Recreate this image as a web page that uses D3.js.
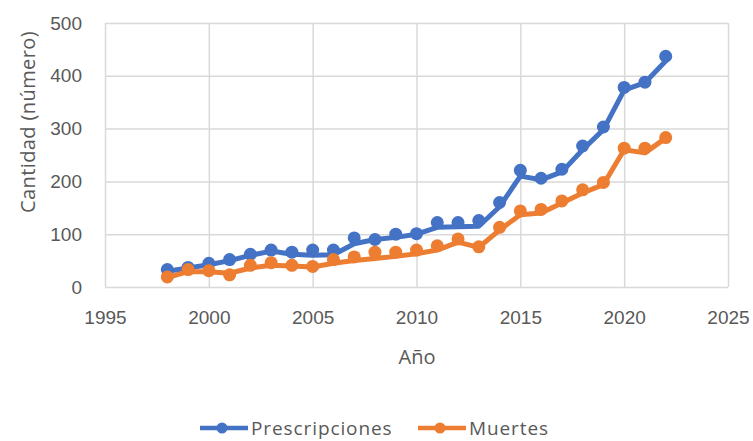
<!DOCTYPE html>
<html lang="es">
<head>
    <meta charset="utf-8">
    <title>Prescripciones y muertes</title>
    <style>
        body {
            margin: 0;
            background: #fff;
        }

        svg {
            font-family: "Open Sans", sans-serif;
        }

        .grid line {
            stroke: #d9d9d9;
            stroke-width: 1.5;
        }

        .tick text {
            fill: #595959;
            font-size: 19px;
        }
    </style>
</head>
<body>

<svg width="753" height="441"></svg>

<script src="https://d3js.org/d3.v7.min.js"></script>
<script>

    // ---- data ----
    const years = [1998, 1999, 2000, 2001, 2002, 2003, 2004, 2005, 2006, 2007, 2008, 2009,
        2010, 2011, 2012, 2013, 2014, 2015, 2016, 2017, 2018, 2019, 2020, 2021, 2022];

    // markers
    const prescripciones = [33, 37, 45, 52, 62, 70, 66, 70, 70, 93, 90, 100,
        101, 122, 122, 126, 160, 221, 206, 223, 267, 303, 378, 388, 437];
    const muertes = [19, 33, 31, 23, 41, 46, 41, 39, 52, 57, 66, 66,
        70, 78, 91, 76, 113, 144, 147, 163, 184, 198, 263, 263, 283];

    // the drawn lines run a little apart from the markers
    const prescripcionesLinea = [30, 36, 42, 50, 60, 68, 62, 60, 61, 82, 90, 94,
        100, 113, 114, 115, 152, 210, 203, 218, 260, 298, 373, 387, 428];
    const muertesLinea = [18, 29, 29, 26, 36, 41, 40, 38, 45, 50, 54, 58,
        63, 70, 85, 75, 108, 137, 140, 159, 178, 194, 260, 254, 282];

    const xTicks = [1995, 2000, 2005, 2010, 2015, 2020, 2025];
    const yTicks = [0, 100, 200, 300, 400, 500];

    const series = [
        {name: "Prescripciones", color: "#4472C4", points: prescripciones, line: prescripcionesLinea},
        {name: "Muertes", color: "#ED7D31", points: muertes, line: muertesLinea}
    ];

    const svg = d3.select("svg");
    const plot = {left: 105, right: 728, top: 23, bottom: 287};

    const x = d3.scaleLinear().domain([1995, 2025]).range([plot.left, plot.right]);
    const y = d3.scaleLinear().domain([0, 500]).range([plot.bottom, plot.top]);

    // gridlines
    svg.append("g")
        .attr("class", "grid")
        .attr("transform", `translate(0,${plot.bottom})`)
        .call(d3.axisBottom(x).tickValues(xTicks).tickSize(-(plot.bottom - plot.top)).tickFormat(""))
        .call(g => g.select(".domain").remove());
    svg.append("g")
        .attr("class", "grid")
        .attr("transform", `translate(${plot.left},0)`)
        .call(d3.axisLeft(y).tickValues(yTicks).tickSize(-(plot.right - plot.left)).tickFormat(""))
        .call(g => g.select(".domain").remove());

    // x labels
    svg.append("g")
        .attr("transform", `translate(0,${plot.bottom})`)
        .call(d3.axisBottom(x).tickValues(xTicks).tickSize(0).tickPadding(24).tickFormat(d3.format("d")))
        .call(g => g.select(".domain").remove());

    // y labels
    svg.append("g")
        .attr("transform", `translate(82,0)`)
        .call(d3.axisLeft(y).tickValues(yTicks).tickSize(0).tickPadding(0))
        .call(g => g.select(".domain").remove());

    // axis titles
    svg.append("text")
        .attr("x", 417)
        .attr("y", 364)
        .attr("text-anchor", "middle")
        .attr("fill", "#595959")
        .attr("font-size", 20)
        .text("Año");

    svg.append("text")
        .attr("transform", "translate(35,122) rotate(-90)")
        .attr("text-anchor", "middle")
        .attr("fill", "#595959")
        .attr("font-size", 20)
        .attr("letter-spacing", 0.4)
        .text("Cantidad (número)");

    // series
    const line = d3.line()
        .x((d, i) => x(years[i]))
        .y(d => y(d));

    series.forEach(s => {
        svg.append("path")
            .datum(s.line)
            .attr("fill", "none")
            .attr("stroke", s.color)
            .attr("stroke-width", 5)
            .attr("stroke-linejoin", "round")
            .attr("stroke-linecap", "round")
            .attr("d", line);

        svg.append("g")
            .selectAll("circle")
            .data(s.points)
            .join("circle")
            .attr("cx", (d, i) => x(years[i]))
            .attr("cy", d => y(d))
            .attr("r", 6.5)
            .attr("fill", s.color);
    });

    // legend
    const legend = svg.append("g").attr("transform", "translate(0,428)");
    const legendX = [200, 418];
    series.forEach((s, i) => {
        const g = legend.append("g").attr("transform", `translate(${legendX[i]},0)`);
        g.append("line")
            .attr("x1", 0).attr("x2", 48)
            .attr("stroke", s.color)
            .attr("stroke-width", 4.5);
        g.append("circle")
            .attr("cx", 22).attr("r", 5.5)
            .attr("fill", s.color);
        g.append("text")
            .attr("x", 51)
            .attr("dy", "0.35em")
            .attr("fill", "#595959")
            .attr("font-size", 19)
            .attr("letter-spacing", 0.9)
            .text(s.name);
    });

</script>
</body>
</html>
